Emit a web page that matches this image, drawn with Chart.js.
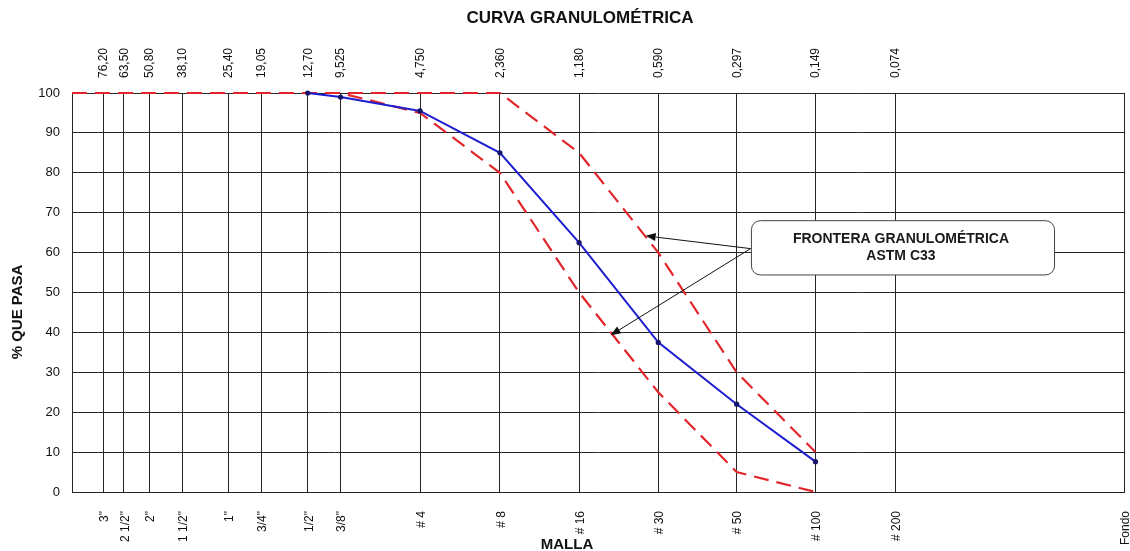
<!DOCTYPE html>
<html><head><meta charset="utf-8">
<script src="https://cdn.jsdelivr.net/npm/chart.js@4"></script>
<style>html,body{margin:0;padding:0;background:#fff}#wrap{width:1130px;height:551px;position:relative}</style>
</head><body><div id="wrap"><canvas id="c"></canvas></div>
<script>
const sieveSizes = [76.2, 63.5, 50.8, 38.1, 25.4, 19.05, 12.7, 9.525, 4.75, 2.36, 1.18, 0.59, 0.297, 0.149, 0.074, 0.01];
const mmLabels = ['76,20','63,50','50,80','38,10','25,40','19,05','12,70','9,525','4,750','2,360','1,180','0,590','0,297','0,149','0,074',''];
const sieveLabels = ['3"','2 1/2"','2"','1 1/2"','1"','3/4"','1/2"','3/8"','# 4','# 8','# 16','# 30','# 50','# 100','# 200','Fondo'];
const yTicks = [0,10,20,30,40,50,60,70,80,90,100];
const sampleSizes = [12.7, 9.525, 4.75, 2.36, 1.18, 0.59, 0.297, 0.149];
const samplePassing = [100, 99, 95.5, 85, 62.5, 37.5, 22, 7.6];
const limitSizes = [100, 76.2, 63.5, 50.8, 38.1, 25.4, 19.05, 12.7, 9.525, 4.75, 2.36, 1.18, 0.59, 0.297, 0.149];
const upperLimit = [100,100,100,100,100,100,100,100,100,100,100,85,60,30,10];
const lowerLimit = [100,100,100,100,100,100,100,100,100,95,80,50,25,5,0];
const noteLines = ['FRONTERA GRANULOMÉTRICA','ASTM C33'];

const toPts = (xs, ys) => xs.map((x,i)=>({x:x, y:ys[i]}));
const FONT = '"Liberation Sans", Arial, sans-serif';
const GRID = '#262626';

const textPlugin = {
  id: 'texts',
  afterDatasetsDraw(chart) {
    const ctx = chart.ctx, sx = chart.scales.x, sy = chart.scales.y;
    ctx.save();
    const from = {x: sx.getPixelForValue(0.263), y: sy.getPixelForValue(61)};
    const tips = [
      {x: sx.getPixelForValue(0.659), y: sy.getPixelForValue(64.2)},
      {x: sx.getPixelForValue(0.895), y: sy.getPixelForValue(39.3)}
    ];
    ctx.strokeStyle = '#111'; ctx.fillStyle = '#111'; ctx.lineWidth = 1;
    tips.forEach(t => {
      const ang = Math.atan2(t.y - from.y, t.x - from.x);
      const L = 10, W = 4;
      const bx = t.x - L*Math.cos(ang), by = t.y - L*Math.sin(ang);
      ctx.beginPath(); ctx.moveTo(from.x, from.y); ctx.lineTo(bx, by); ctx.stroke();
      ctx.beginPath();
      ctx.moveTo(t.x, t.y);
      ctx.lineTo(bx + W*Math.sin(ang), by - W*Math.cos(ang));
      ctx.lineTo(bx - W*Math.sin(ang), by + W*Math.cos(ang));
      ctx.closePath(); ctx.fill();
    });
    const l = sx.getPixelForValue(0.261), r = sx.getPixelForValue(0.01837);
    const t = sy.getPixelForValue(68), b = sy.getPixelForValue(54.4);
    ctx.beginPath();
    ctx.roundRect(l, t, r-l, b-t, 9);
    ctx.fillStyle = '#fff'; ctx.fill();
    ctx.strokeStyle = '#444'; ctx.lineWidth = 1; ctx.stroke();
    ctx.fillStyle = '#1a1a1a';
    ctx.font = 'bold 14px ' + FONT;
    ctx.textAlign = 'center'; ctx.textBaseline = 'middle';
    const cx = (l + r)/2 - 2;
    ctx.fillText(noteLines[0], cx, t + 18);
    ctx.fillText(noteLines[1], cx, t + 35);
    ctx.restore();
  },
  afterDraw(chart) {
    const ctx = chart.ctx;
    ctx.save();
    ctx.fillStyle = '#111';
    ctx.textAlign = 'center'; ctx.textBaseline = 'middle';
    ctx.font = 'bold 17px ' + FONT;
    ctx.fillText('CURVA GRANULOMÉTRICA', 580, 18);
    ctx.font = 'bold 15px ' + FONT;
    ctx.fillText('MALLA', 567, 545);
    ctx.translate(18, 312); ctx.rotate(-Math.PI/2);
    ctx.fillText('% QUE PASA', 0, 0);
    ctx.restore();
  }
};

const setSieveTicks = s => { s.ticks = sieveSizes.map(v => ({value: v})); };
const noSidePad = h => s => { s.height = h; s.paddingLeft = 0; s.paddingRight = 0; };

new Chart(document.getElementById('c'), {
  type: 'line',
  data: {
    datasets: [
      {
        label: 'Muestra',
        data: toPts(sampleSizes, samplePassing),
        borderColor: '#1c1cd0', borderWidth: 2,
        pointRadius: 2.6, pointBackgroundColor: '#14146e', pointBorderWidth: 0,
        tension: 0, clip: 6
      },
      {
        label: 'Límite superior',
        data: toPts(limitSizes, upperLimit),
        borderColor: '#e2262c', borderWidth: 2.2, borderDash: [15, 8],
        pointRadius: 0, tension: 0, clip: 6
      },
      {
        label: 'Límite inferior',
        data: toPts(limitSizes, lowerLimit),
        borderColor: '#e2262c', borderWidth: 2.2, borderDash: [15, 8],
        pointRadius: 0, tension: 0, clip: 6
      }
    ]
  },
  options: {
    responsive: true, maintainAspectRatio: false, animation: false,
    layout: { padding: { top: 33, right: 6, bottom: 0, left: 0 } },
    plugins: { legend: { display: false }, tooltip: { enabled: false } },
    scales: {
      x: {
        type: 'logarithmic', position: 'bottom', min: 0.01, max: 100, reverse: true,
        afterBuildTicks: setSieveTicks,
        afterFit: noSidePad(59),
        grid: { color: GRID, lineWidth: 1, drawTicks: false },
        border: { color: GRID, width: 1 },
        ticks: {
          autoSkip: false, maxRotation: 90, minRotation: 90, padding: 19, labelOffset: 1.5,
          color: '#111', font: { family: FONT, size: 12 },
          callback: (v, i) => sieveLabels[i]
        }
      },
      x2: {
        type: 'logarithmic', position: 'top', min: 0.01, max: 100, reverse: true,
        afterBuildTicks: setSieveTicks,
        afterFit: noSidePad(60),
        grid: { display: false },
        border: { display: false },
        ticks: {
          autoSkip: false, maxRotation: 90, minRotation: 90, padding: 7, labelOffset: 15,
          color: '#111', font: { family: FONT, size: 12 },
          callback: (v, i) => mmLabels[i]
        }
      },
      y: {
        min: 0, max: 100,
        afterBuildTicks: s => { s.ticks = yTicks.map(v => ({value: v})); },
        afterFit: s => { s.width = 72; },
        grid: { color: GRID, lineWidth: 1, drawTicks: false },
        border: { color: GRID, width: 1 },
        ticks: { padding: 12, color: '#111', font: { family: FONT, size: 13 } }
      }
    }
  },
  plugins: [textPlugin]
});
</script>
</body></html>
